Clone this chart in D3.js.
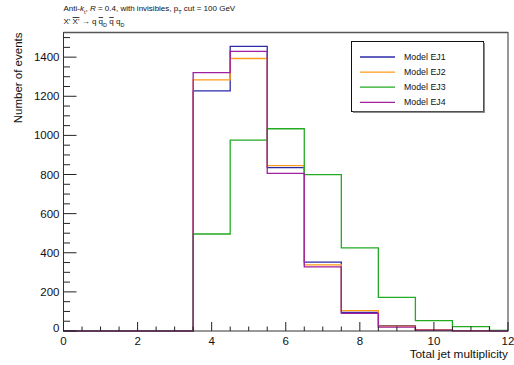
<!DOCTYPE html>
<html lang="en">
<head>
  <meta charset="UTF-8">
  <title>Total jet multiplicity</title>
  <script src="https://d3js.org/d3.v7.min.js"></script>
  <style>
    body { margin: 0; background: #ffffff; }
    svg { display: block; font-family: "Liberation Sans", Arial, sans-serif; }
  </style>
</head>
<body>
  <script>
    // bin centres (jet multiplicity), bin width 1
    const binCenters = [0, 1, 2, 3, 4, 5, 6, 7, 8, 9, 10, 11, 12];

    const modelEJ1 = [0, 0, 0, 0, 1228, 1455, 835, 352, 95, 27, 5, 2, 0];
    const modelEJ2 = [0, 0, 0, 0, 1284, 1393, 845, 338, 104, 25, 6, 1, 0];
    const modelEJ3 = [0, 0, 0, 0, 496, 976, 1034, 799, 425, 172, 53, 22, 3];
    const modelEJ4 = [0, 0, 0, 0, 1321, 1430, 806, 328, 90, 20, 4, 1, 0];

    const seriesNames = ["Model EJ1", "Model EJ2", "Model EJ3", "Model EJ4"];
    const seriesColors = ["#2b2ba8", "#ff9a1a", "#22aa22", "#a020a0"];
    const seriesValues = [modelEJ1, modelEJ2, modelEJ3, modelEJ4];

    const xTicks = [0, 2, 4, 6, 8, 10, 12];
    const yTicks = [0, 200, 400, 600, 800, 1000, 1200, 1400];

    const width = 514, height = 365;
    const margin = {left: 63.5, right: 6, top: 32.5, bottom: 34};
    const x0 = margin.left, x1 = width - margin.right;
    const y0 = height - margin.bottom, y1 = margin.top;

    const x = d3.scaleLinear().domain([0, 12]).range([x0, x1]);
    const y = d3.scaleLinear().domain([0, 1526]).range([y0, y1]);

    const svg = d3.select("body").append("svg")
        .attr("width", width)
        .attr("height", height);

    svg.append("defs").append("clipPath")
        .attr("id", "plotclip")
      .append("rect")
        .attr("x", x0).attr("y", y1 - 2)
        .attr("width", x1 - x0).attr("height", y0 - y1 + 3);

    // step outline for each histogram
    const stepPath = vals => {
      let pts = [];
      binCenters.forEach((c, i) => {
        pts.push([x(c - 0.5), y(vals[i])]);
        pts.push([x(c + 0.5), y(vals[i])]);
      });
      return d3.line()(pts);
    };

    svg.append("g")
        .attr("clip-path", "url(#plotclip)")
      .selectAll("path")
      .data(seriesValues)
      .join("path")
        .attr("d", stepPath)
        .attr("fill", "none")
        .attr("stroke", (d, i) => seriesColors[i])
        .attr("stroke-width", 1.3);

    // frame
    svg.append("rect")
        .attr("x", x0).attr("y", y1)
        .attr("width", x1 - x0).attr("height", y0 - y1)
        .attr("fill", "none")
        .attr("stroke", "#333")
        .attr("stroke-width", 1);
    svg.append("line")
        .attr("x1", x0).attr("x2", x1)
        .attr("y1", y1).attr("y2", y1)
        .attr("stroke", "#555").attr("stroke-width", 1.6);

    // ticks pointing inward (ROOT style)
    const xMinor = d3.range(0, 12.01, 0.5);
    svg.append("g").selectAll("line")
      .data(xMinor)
      .join("line")
        .attr("x1", d => x(d)).attr("x2", d => x(d))
        .attr("y1", y0)
        .attr("y2", d => y0 - (d % 2 === 0 ? 9 : 4.5))
        .attr("stroke", "#222");

    const yMinor = d3.range(0, 1526, 50);
    svg.append("g").selectAll("line")
      .data(yMinor)
      .join("line")
        .attr("y1", d => y(d)).attr("y2", d => y(d))
        .attr("x1", x0)
        .attr("x2", d => x0 + (d % 200 === 0 ? 13 : 6.5))
        .attr("stroke", "#222");

    svg.append("g").selectAll("text")
      .data(xTicks)
      .join("text")
        .attr("x", d => x(d))
        .attr("y", y0 + 14)
        .attr("text-anchor", "middle")
        .attr("font-size", 11.5)
        .attr("fill", "#111")
        .text(d => d);

    svg.append("g").selectAll("text")
      .data(yTicks)
      .join("text")
        .attr("x", x0 - 4)
        .attr("y", d => y(d) - (d === 0 ? 3 : 0))
        .attr("dy", "0.35em")
        .attr("text-anchor", "end")
        .attr("font-size", 11.5)
        .attr("fill", "#111")
        .text(d => d);

    // axis titles
    svg.append("text")
        .attr("x", x1)
        .attr("y", 358)
        .attr("text-anchor", "end")
        .attr("font-size", 11.8)
        .attr("fill", "#111")
        .text("Total jet multiplicity");

    svg.append("text")
        .attr("transform", `translate(22,${y1}) rotate(-90)`)
        .attr("text-anchor", "end")
        .attr("font-size", 11.5)
        .attr("fill", "#111")
        .text("Number of events");

    // header lines
    const t1 = svg.append("text")
        .attr("x", x0)
        .attr("y", 11)
        .attr("font-size", 8)
        .attr("fill", "#111");
    t1.append("tspan").text("Anti-");
    t1.append("tspan").attr("font-style", "italic").text("k");
    t1.append("tspan").attr("font-size", 5.5).attr("dy", 2.5).text("t");
    t1.append("tspan").attr("dy", -2.5).text(", ");
    t1.append("tspan").attr("font-style", "italic").text("R");
    t1.append("tspan").text(" = 0.4, with invisibles, p");
    t1.append("tspan").attr("font-size", 5.5).attr("dy", 2.5).text("T");
    t1.append("tspan").attr("dy", -2.5).text(" cut = 100 GeV");

    const t2 = svg.append("text")
        .attr("x", x0)
        .attr("y", 24)
        .attr("font-size", 8)
        .attr("fill", "#111");
    t2.append("tspan").text("X' ");
    t2.append("tspan").style("text-decoration", "overline").text("X'");
    t2.append("tspan").text(" \u2192 q ");
    t2.append("tspan").style("text-decoration", "overline").text("q");
    t2.append("tspan").attr("font-size", 5.5).attr("dy", 2.5).text("D");
    t2.append("tspan").attr("dy", -2.5).text(" ");
    t2.append("tspan").style("text-decoration", "overline").text("q");
    t2.append("tspan").text(" q");
    t2.append("tspan").attr("font-size", 5.5).attr("dy", 2.5).text("D");

    // legend
    const lg = svg.append("g");
    lg.append("rect")
        .attr("x", 351.5).attr("y", 41.5)
        .attr("width", 132).attr("height", 70)
        .attr("fill", "#fff")
        .attr("stroke", "#111");
    lg.append("line")
        .attr("x1", 484).attr("x2", 484)
        .attr("y1", 43).attr("y2", 112.5)
        .attr("stroke", "#666").attr("stroke-width", 1.5);
    lg.append("line")
        .attr("x1", 353).attr("x2", 484.5)
        .attr("y1", 112).attr("y2", 112)
        .attr("stroke", "#666").attr("stroke-width", 1.5);

    const rows = lg.selectAll("g.row")
      .data(seriesNames)
      .join("g")
        .attr("transform", (d, i) => `translate(0,${57 + i * 15.1})`);
    rows.append("line")
        .attr("x1", 360).attr("x2", 395)
        .attr("stroke", (d, i) => seriesColors[i])
        .attr("stroke-width", 1.3);
    rows.append("text")
        .attr("x", 404)
        .attr("dy", "0.35em")
        .attr("font-size", 8.8)
        .attr("fill", "#111")
        .text(d => d);
  </script>
</body>
</html>
